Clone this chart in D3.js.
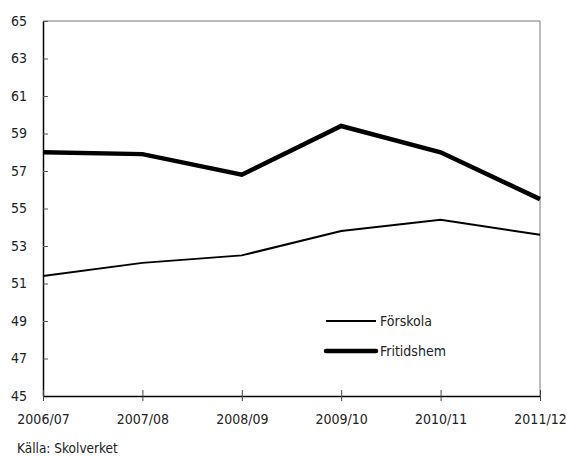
<!DOCTYPE html>
<html><head><meta charset="utf-8">
<script src="https://cdn.jsdelivr.net/npm/d3@7"></script>
<style>
body{margin:0;background:#fff;}
text{font-family:"DejaVu Sans Condensed","DejaVu Sans",sans-serif;font-stretch:condensed;fill:#222;}
</style></head>
<body>
<svg id="c" width="567" height="458"></svg>
<script>
const categories = ["2006/07","2007/08","2008/09","2009/10","2010/11","2011/12"];
const forskola = [51.4, 52.1, 52.5, 53.8, 54.4, 53.6];
const fritidshem = [58.0, 57.9, 56.8, 59.4, 58.0, 55.5];
const yTicks = [45,47,49,51,53,55,57,59,61,63,65];
const seriesNames = ["Förskola","Fritidshem"];
const source = "Källa: Skolverket";

const FONT = '"DejaVu Sans Condensed","DejaVu Sans",sans-serif';
const svg = d3.select("#c");
const L=43, R=540, T=21, B=396;
const x = d3.scalePoint().domain(categories).range([L,R]);
const y = d3.scaleLinear().domain([45,65]).range([B,T]);

// frame (top/right)
svg.append("line").attr("x1",L).attr("x2",R).attr("y1",T).attr("y2",T).attr("stroke","#777").attr("stroke-width",1);
svg.append("line").attr("x1",R).attr("x2",R).attr("y1",T).attr("y2",B).attr("stroke","#777").attr("stroke-width",1);

// y axis
const ya = svg.append("g").attr("transform",`translate(${L},0)`)
  .call(d3.axisLeft(y).tickValues(yTicks).tickSize(0).tickPadding(16).tickFormat(d3.format("d")));
ya.select(".domain").attr("stroke","#000").attr("stroke-width",1.5);
ya.selectAll("text").attr("font-size",14).style("font-family",FONT).attr("fill","#222");
ya.selectAll(".tick").append("line").attr("x1",0).attr("x2",5).attr("stroke","#555");

// x axis
const xa = svg.append("g").attr("transform",`translate(0,${B})`)
  .call(d3.axisBottom(x).tickSize(5).tickPadding(13).tickSizeOuter(0));
xa.select(".domain").attr("stroke","#000").attr("stroke-width",1.5);
xa.selectAll(".tick line").attr("y1",-6).attr("y2",5).attr("stroke","#444");
xa.selectAll("text").attr("font-size",14).style("font-family",FONT).attr("fill","#222");

const line = d3.line().x((d,i)=>x(categories[i])).y(d=>y(d));
svg.append("path").datum(forskola).attr("d",line).attr("fill","none").attr("stroke","#000").attr("stroke-width",2);
svg.append("path").datum(fritidshem).attr("d",line).attr("fill","none").attr("stroke","#000").attr("stroke-width",4.5).attr("stroke-linejoin","miter");

// legend
const leg = [{n:seriesNames[0],w:2,y:321},{n:seriesNames[1],w:4.5,y:351}];
leg.forEach(l=>{
  svg.append("line").attr("x1",326).attr("x2",376).attr("y1",l.y).attr("y2",l.y).attr("stroke","#000").attr("stroke-width",l.w).attr("stroke-linecap",l.w>3?"round":"butt");
  svg.append("text").attr("x",380).attr("y",l.y).attr("dy","0.35em").attr("font-size",14).style("font-family",FONT).text(l.n);
});

svg.append("text").attr("x",17).attr("y",453).attr("font-size",13.5).style("font-family",FONT).text(source);
</script>
</body></html>
